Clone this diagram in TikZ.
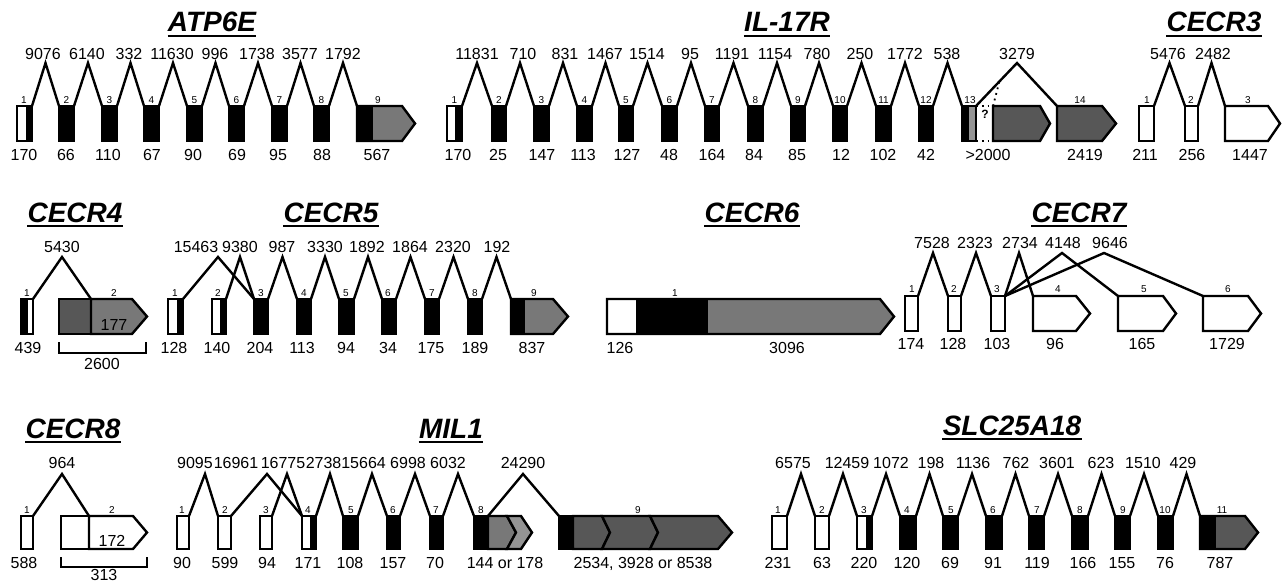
\documentclass[tikz,border=0pt]{standalone}
\usepackage{fontspec}
\setmainfont{Liberation Sans}
\definecolor{gA}{gray}{0.47}
\definecolor{gB}{gray}{0.34}
\definecolor{gC}{gray}{0.58}
\tikzset{
  exon/.style={draw=black, line width=1.2pt, line join=miter},
  intron/.style={draw=black, line width=1.2pt, line join=miter},
  num/.style={font=\fontsize{8}{9}\selectfont, inner sep=0pt, text height=5.75pt, text depth=0pt},
  exn/.style={font=\fontsize{5}{6}\selectfont, inner sep=0pt, text height=3.6pt, text depth=0pt},
  gtitle/.style={font=\fontsize{14}{16}\selectfont\bfseries\itshape, inner sep=0pt, text height=10pt, text depth=0pt},
  uline/.style={line width=1pt},
  brk/.style={line width=1pt},
}
% plain exon
\newcommand\exR[4]{%
  \path[exon, fill=#4] (#2,\rowT) rectangle (#3,\rowB);
  \coordinate (#1-l) at (#2,\rowT); \coordinate (#1-r) at (#3,\rowT);}
% white then black
\newcommand\exWB[4]{%
  \fill[white] (#2,\rowT) rectangle (#3,\rowB);
  \fill[black] (#3,\rowT) rectangle (#4,\rowB);
  \draw[exon] (#2,\rowT) rectangle (#4,\rowB);
  \coordinate (#1-l) at (#2,\rowT); \coordinate (#1-r) at (#4,\rowT);}
% black then white
\newcommand\exBW[4]{%
  \fill[black] (#2,\rowT) rectangle (#3,\rowB);
  \fill[white] (#3,\rowT) rectangle (#4,\rowB);
  \draw[exon] (#2,\rowT) rectangle (#4,\rowB);
  \coordinate (#1-l) at (#2,\rowT); \coordinate (#1-r) at (#4,\rowT);}
% arrow-shaped last exon
\newcommand\exA[5]{%
  \path[exon, fill=#5] (#2,\rowT) -- (#3,\rowT) -- (#4,\rowM) -- (#3,\rowB) -- (#2,\rowB) -- cycle;
  \coordinate (#1-l) at (#2,\rowT); \coordinate (#1-r) at (#3,\rowT);}
% black start then coloured arrow
\newcommand\exBA[6]{%
  \fill[#6] (#2,\rowT) -- (#4,\rowT) -- (#5,\rowM) -- (#4,\rowB) -- (#2,\rowB) -- cycle;
  \fill[black] (#2,\rowT) rectangle (#3,\rowB);
  \draw[exon] (#2,\rowT) -- (#4,\rowT) -- (#5,\rowM) -- (#4,\rowB) -- (#2,\rowB) -- cycle;
  \coordinate (#1-l) at (#2,\rowT); \coordinate (#1-m) at (#3,\rowT);}
% intron: from, to, peak x, label, label x
\newcommand\intr[5]{%
  \draw[intron] (#1) -- (#3,\rowP) -- (#2);
  \node[num] at (#5,\rowL) {#4};}
% exon number and size
\newcommand\lab[4]{%
  \node[exn] at (#1,\rowN) {#2};
  \node[num] at (#3,\rowS) {#4};}
% gene title
\newcommand\gtit[4]{%
  \node[gtitle] (#1) at (#2,#3) {#4};
  \draw[uline] ([yshift=-1.6pt]#1.south west) -- ([yshift=-1.6pt]#1.south east);}
\begin{document}
\begin{tikzpicture}[x=0.5pt,y=-0.5pt]
\useasboundingbox (0,0) rectangle (1284,583);

%================ ROW 1 ================
\def\rowT{106}\def\rowB{141}\def\rowM{123.5}\def\rowP{63}\def\rowL{54}\def\rowN{100}\def\rowS{155}

% ---- ATP6E
\gtit{tA}{212}{22}{ATP6E}
\exWB{a1}{17}{26}{32}
\exR{a2}{59}{74}{black}
\exR{a3}{102}{117}{black}
\exR{a4}{144}{159}{black}
\exR{a5}{187}{202}{black}
\exR{a6}{229}{244}{black}
\exR{a7}{272}{287}{black}
\exR{a8}{314}{329}{black}
\exBA{a9}{357}{373}{402}{415}{gA}
\intr{a1-r}{a2-l}{45.5}{9076}{43}
\intr{a2-r}{a3-l}{88}{6140}{87}
\intr{a3-r}{a4-l}{130.5}{332}{129}
\intr{a4-r}{a5-l}{173}{11630}{172}
\intr{a5-r}{a6-l}{215.5}{996}{215}
\intr{a6-r}{a7-l}{258}{1738}{257}
\intr{a7-r}{a8-l}{300.5}{3577}{300}
\intr{a8-r}{a9-l}{343}{1792}{343}
\lab{24}{1}{24}{170}
\lab{66.5}{2}{66}{66}
\lab{109.5}{3}{108}{110}
\lab{151.5}{4}{152}{67}
\lab{194.5}{5}{193}{90}
\lab{236.5}{6}{237}{69}
\lab{279.5}{7}{278}{95}
\lab{321.5}{8}{322}{88}
\lab{378}{9}{377}{567}

% ---- IL-17R
\gtit{tI}{787}{22}{IL-17R}
\exWB{i1}{447}{455}{462}
\exR{i2}{492}{506}{black}
\exR{i3}{534}{549}{black}
\exR{i4}{577}{592}{black}
\exR{i5}{619}{633}{black}
\exR{i6}{662}{677}{black}
\exR{i7}{705}{719}{black}
\exR{i8}{748}{763}{black}
\exR{i9}{791}{805}{black}
\exR{i10}{833}{847}{black}
\exR{i11}{876}{891}{black}
\exR{i12}{919}{933}{black}
% exon 13
\fill[black] (962,\rowT) rectangle (969,\rowB);
\fill[gC] (969,\rowT) rectangle (976,\rowB);
\draw[exon] (962,\rowT) rectangle (976,\rowB);
\coordinate (i13-l) at (962,\rowT); \coordinate (i13-r) at (976,\rowT);
\draw[dotted, line width=0.9pt] (976,\rowT) -- (993,\rowT);
\draw[dotted, line width=0.9pt] (976,\rowB) -- (993,\rowB);
\draw[dotted, line width=0.9pt] (993,\rowT) -- (999,83);
\path[exon, fill=gB] (993,\rowT) -- (1040,\rowT) -- (1050,\rowM) -- (1040,\rowB) -- (993,\rowB) -- cycle;
\node[font=\fontsize{6}{7}\selectfont\bfseries, inner sep=0pt] (q13) at (985,114) {?};
\exA{i14}{1057}{1102}{1116}{gB}
\intr{i1-r}{i2-l}{477}{11831}{477}
\intr{i2-r}{i3-l}{520}{710}{523}
\intr{i3-r}{i4-l}{563}{831}{565}
\intr{i4-r}{i5-l}{605.5}{1467}{605}
\intr{i5-r}{i6-l}{647.5}{1514}{647}
\intr{i6-r}{i7-l}{691}{95}{690}
\intr{i7-r}{i8-l}{733.5}{1191}{732}
\intr{i8-r}{i9-l}{777}{1154}{775}
\intr{i9-r}{i10-l}{819}{780}{817}
\intr{i10-r}{i11-l}{861.5}{250}{860}
\intr{i11-r}{i12-l}{905}{1772}{905}
\intr{i12-r}{i13-l}{947.5}{538}{947}
\intr{i13-r}{i14-l}{1017}{3279}{1017}
\lab{454.5}{1}{458}{170}
\lab{499}{2}{498}{25}
\lab{541.5}{3}{542}{147}
\lab{584.5}{4}{583}{113}
\lab{626}{5}{627}{127}
\lab{669.5}{6}{669}{48}
\lab{712}{7}{712}{164}
\lab{755.5}{8}{754}{84}
\lab{798}{9}{797}{85}
\lab{840}{10}{841}{12}
\lab{883.5}{11}{883}{102}
\lab{926}{12}{926}{42}
\lab{970}{13}{988}{>2000}
\lab{1080}{14}{1085}{2419}

% ---- CECR3
\gtit{tC3}{1214}{22}{CECR3}
\exR{c1}{1139}{1154}{white}
\exR{c2}{1185}{1198}{white}
\exA{c3}{1225}{1268}{1280}{white}
\intr{c1-r}{c2-l}{1169.5}{5476}{1168}
\intr{c2-r}{c3-l}{1211.5}{2482}{1213}
\lab{1147}{1}{1145}{211}
\lab{1191}{2}{1192}{256}
\lab{1248}{3}{1250}{1447}

%================ ROW 2 ================
\def\rowT{299}\def\rowB{334}\def\rowM{316.5}\def\rowP{257}\def\rowL{247}\def\rowN{293}\def\rowS{348}

% ---- CECR4
\gtit{tC4}{75}{212}{CECR4}
\exBW{d1}{21}{28}{33}
\path[exon, fill=gB] (59,\rowT) rectangle (91,\rowB);
\path[exon, fill=gA] (91,\rowT) -- (132,\rowT) -- (147,\rowM) -- (132,\rowB) -- (91,\rowB) -- cycle;
\coordinate (d2-m) at (91,\rowT);
\intr{d1-r}{d2-m}{62}{5430}{62}
\node[exn] at (27,\rowN) {1};
\node[num] at (28,\rowS) {439};
\node[exn] at (114,\rowN) {2};
\node[num] (n177) at (114,325) {177};
\draw[brk] (59,342) -- (59,353) -- (146,353) -- (146,342);
\node[num] (n2600) at (102,364) {2600};

% ---- CECR5
\gtit{tC5}{331}{212}{CECR5}
\exWB{e1}{168}{177}{183}
\exWB{e2}{212}{220}{226}
\exR{e3}{254}{268}{black}
\exR{e4}{297}{311}{black}
\exR{e5}{339}{354}{black}
\exR{e6}{382}{396}{black}
\exR{e7}{425}{439}{black}
\exR{e8}{468}{482}{black}
\exBA{e9}{511}{525}{553}{568}{gA}
\intr{e1-r}{e3-l}{218}{15463}{196}
\intr{e2-r}{e3-l}{240}{9380}{240}
\intr{e3-r}{e4-l}{282.5}{987}{282}
\intr{e4-r}{e5-l}{325}{3330}{325}
\intr{e5-r}{e6-l}{368}{1892}{367}
\intr{e6-r}{e7-l}{410.5}{1864}{410}
\intr{e7-r}{e8-l}{453.5}{2320}{453}
\intr{e8-r}{e9-l}{496.5}{192}{497}
\lab{175}{1}{174}{128}
\lab{218}{2}{217}{140}
\lab{261}{3}{260}{204}
\lab{304}{4}{302}{113}
\lab{346}{5}{346}{94}
\lab{388}{6}{388}{34}
\lab{432}{7}{431}{175}
\lab{475}{8}{475}{189}
\lab{534}{9}{532}{837}

% ---- CECR6
\gtit{tC6}{752}{212}{CECR6}
\fill[gA] (607,\rowT) -- (880,\rowT) -- (894,\rowM) -- (880,\rowB) -- (607,\rowB) -- cycle;
\fill[white] (607,\rowT) rectangle (636,\rowB);
\fill[black] (636,\rowT) rectangle (708,\rowB);
\draw[exon] (607,\rowT) -- (880,\rowT) -- (894,\rowM) -- (880,\rowB) -- (607,\rowB) -- cycle;
\node[exn] at (675,\rowN) {1};
\node[num] at (620,\rowS) {126};
\node[num] at (787,\rowS) {3096};

% ---- CECR7
\def\rowT{296}\def\rowB{331}\def\rowM{313.5}\def\rowP{253}\def\rowL{243}\def\rowN{289}\def\rowS{344}
\gtit{tC7}{1079}{212}{CECR7}
\exR{f1}{905}{918}{white}
\exR{f2}{948}{961}{white}
\exR{f3}{991}{1005}{white}
\exA{f4}{1033}{1076}{1090}{white}
\exA{f5}{1118}{1163}{1176}{white}
\exA{f6}{1203}{1248}{1261}{white}
\intr{f1-r}{f2-l}{933}{7528}{932}
\intr{f2-r}{f3-l}{976}{2323}{975}
\intr{f3-r}{f4-l}{1019}{2734}{1020}
\intr{f3-r}{f5-l}{1062}{4148}{1063}
\intr{f3-r}{f6-l}{1104}{9646}{1110}
\lab{912}{1}{911}{174}
\lab{954}{2}{953}{128}
\lab{997}{3}{997}{103}
\lab{1058}{4}{1055}{96}
\lab{1144}{5}{1142}{165}
\lab{1228}{6}{1227}{1729}

%================ ROW 3 ================
\def\rowT{516}\def\rowB{549}\def\rowM{532.5}\def\rowP{474}\def\rowL{463}\def\rowN{510}\def\rowS{563}

% ---- CECR8
\gtit{tC8}{73}{428}{CECR8}
\exR{g1}{21}{33}{white}
\path[exon, fill=white] (61,\rowT) rectangle (89,\rowB);
\path[exon, fill=white] (89,\rowT) -- (133,\rowT) -- (147,\rowM) -- (133,\rowB) -- (89,\rowB) -- cycle;
\coordinate (g2-m) at (89,\rowT);
\intr{g1-r}{g2-m}{62}{964}{62}
\node[exn] at (27,\rowN) {1};
\node[num] at (24,\rowS) {588};
\node[exn] at (112,\rowN) {2};
\node[num] (n172) at (112,541) {172};
\draw[brk] (61,557) -- (61,567) -- (147,567) -- (147,557);
\node[num] (n313) at (104,575) {313};

% ---- MIL1
\gtit{tM}{451}{428}{MIL1}
\exR{m1}{177}{189}{white}
\exR{m2}{218}{231}{white}
\exR{m3}{260}{272}{white}
\exWB{m4}{302}{310}{316}
\exR{m5}{343}{358}{black}
\exR{m6}{387}{400}{black}
\exR{m7}{430}{443}{black}
% exon 8
\path[exon, fill=black] (474,\rowT) rectangle (488,\rowB);
\path[exon, fill=gA] (488,\rowT) -- (507,\rowT) -- (516,\rowM) -- (507,\rowB) -- (488,\rowB) -- cycle;
\path[exon, fill=gC] (507,\rowT) -- (521,\rowT) -- (532,\rowM) -- (521,\rowB) -- (507,\rowB) -- (516,\rowM) -- cycle;
\coordinate (m8-l) at (474,\rowT); \coordinate (m8-m) at (488,\rowT);
% exon 9
\path[exon, fill=black] (559,\rowT) rectangle (573,\rowB);
\path[exon, fill=gB] (573,\rowT) -- (602,\rowT) -- (610,\rowM) -- (602,\rowB) -- (573,\rowB) -- cycle;
\path[exon, fill=gB] (602,\rowT) -- (650,\rowT) -- (658,\rowM) -- (650,\rowB) -- (602,\rowB) -- (610,\rowM) -- cycle;
\path[exon, fill=gB] (650,\rowT) -- (718,\rowT) -- (732,\rowM) -- (718,\rowB) -- (650,\rowB) -- (658,\rowM) -- cycle;
\coordinate (m9-l) at (559,\rowT);
\intr{m1-r}{m2-l}{205}{9095}{195}
\intr{m2-r}{m4-l}{267}{16961}{236}
\intr{m3-r}{m4-l}{287}{16775}{283}
\intr{m4-r}{m5-l}{330}{27381}{328}
\intr{m5-r}{m6-l}{372}{5664}{368}
\intr{m6-r}{m7-l}{415}{6998}{408}
\intr{m7-r}{m8-l}{458}{6032}{448}
\intr{m8-m}{m9-l}{523}{24290}{523}
\lab{182}{1}{182}{90}
\lab{225}{2}{225}{599}
\lab{266}{3}{267}{94}
\lab{308}{4}{308}{171}
\lab{351}{5}{350}{108}
\lab{393}{6}{393}{157}
\lab{436}{7}{435}{70}
\lab{481}{8}{505}{144 or 178}
\lab{638}{9}{643}{2534, 3928 or 8538}

% ---- SLC25A18
\gtit{tS}{1012}{425}{SLC25A18}
\exR{s1}{772}{787}{white}
\exR{s2}{815}{829}{white}
\exWB{s3}{857}{866}{872}
\exR{s4}{900}{916}{black}
\exR{s5}{943}{958}{black}
\exR{s6}{986}{1002}{black}
\exR{s7}{1029}{1044}{black}
\exR{s8}{1072}{1088}{black}
\exR{s9}{1115}{1130}{black}
\exR{s10}{1158}{1173}{black}
\exBA{s11}{1200}{1216}{1245}{1258}{gB}
\intr{s1-r}{s2-l}{801}{6575}{793}
\intr{s2-r}{s3-l}{843}{12459}{847}
\intr{s3-r}{s4-l}{886}{1072}{891}
\intr{s4-r}{s5-l}{929.5}{198}{931}
\intr{s5-r}{s6-l}{972}{1136}{973}
\intr{s6-r}{s7-l}{1015.5}{762}{1016}
\intr{s7-r}{s8-l}{1058}{3601}{1057}
\intr{s8-r}{s9-l}{1101.5}{623}{1101}
\intr{s9-r}{s10-l}{1144}{1510}{1143}
\intr{s10-r}{s11-l}{1186.5}{429}{1183}
\lab{778}{1}{778}{231}
\lab{822}{2}{822}{63}
\lab{864}{3}{864}{220}
\lab{907}{4}{907}{120}
\lab{951}{5}{950}{69}
\lab{993}{6}{993}{91}
\lab{1037}{7}{1037}{119}
\lab{1080}{8}{1083}{166}
\lab{1123}{9}{1122}{155}
\lab{1165}{10}{1165}{76}
\lab{1222}{11}{1220}{787}
\end{tikzpicture}
\end{document}
